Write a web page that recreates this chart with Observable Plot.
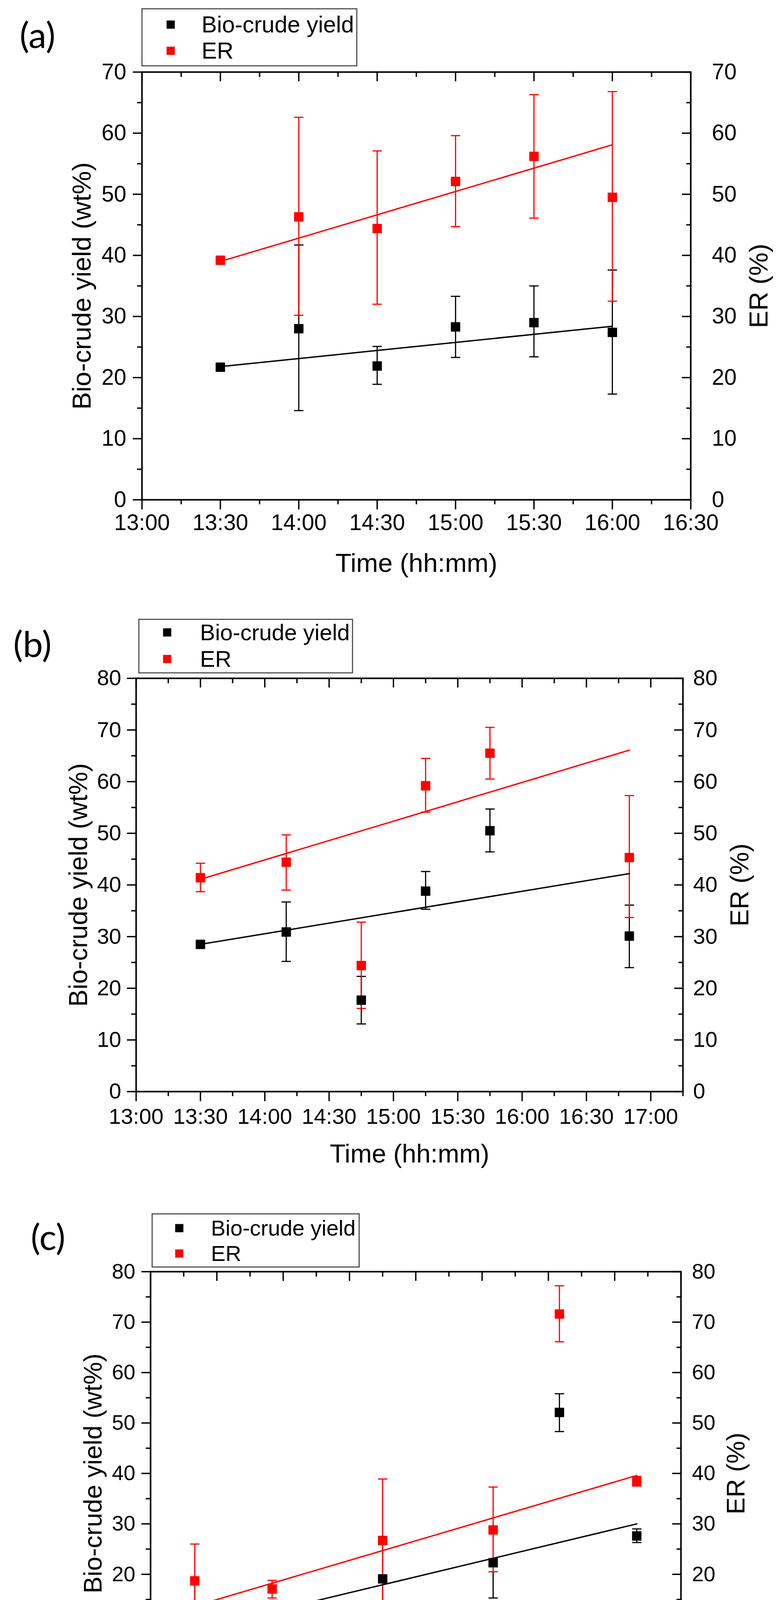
<!DOCTYPE html>
<html><head><meta charset="utf-8">
<script src="https://cdn.jsdelivr.net/npm/d3@7"></script>
<script src="https://cdn.jsdelivr.net/npm/@observablehq/plot@0.6"></script>
<style>
html,body{margin:0;padding:0;background:#fff;}
#page{position:relative;width:1997px;height:4495px;overflow:hidden;font-family:"Liberation Sans",Arial,sans-serif;}
.panel{position:absolute;left:0;}
.legend{position:absolute;border:3px solid #555;box-sizing:border-box;background:#fff;}
.lgsym{position:absolute;width:21px;height:21px;transform:translate(-50%,-50%);}
.lgtxt{position:absolute;white-space:nowrap;line-height:1;transform:translateY(-50%);color:#000;}
.plabel{position:absolute;font-family:Lato,"Open Sans",sans-serif;transform:translate(-50%,-50%);line-height:1;color:#000;}
</style></head><body><div id="page"></div>
<script>
// ---------- DATA ----------
const seriesNames = ["Bio-crude yield", "ER"];
const yLabel = "Bio-crude yield (wt%)";
const y2Label = "ER (%)";
const xLabel = "Time (hh:mm)";

// Panel (a)
const timesA  = ["13:30","14:00","14:30","15:00","15:30","16:00"];
const bioA    = [21.7, 28.0, 21.9, 28.3, 29.0, 27.4];
const bioLoA  = [21.2, 14.6, 18.9, 23.3, 23.4, 17.3];
const bioHiA  = [22.2, 41.7, 25.1, 33.3, 35.0, 37.6];
const erA     = [39.2, 46.3, 44.4, 52.1, 56.2, 49.5];
const erLoA   = [38.7, 30.2, 32.0, 44.7, 46.1, 32.5];
const erHiA   = [39.7, 62.6, 57.1, 59.6, 66.3, 66.8];
const fitTimesA = ["13:30","16:00"];
const bioFitA = [21.8, 28.4];
const erFitA  = [39.0, 58.1];
const xTicksA = ["13:00","13:30","14:00","14:30","15:00","15:30","16:00","16:30"];
const xDomainA = ["13:00","16:30"];
const yTicksA = [0,10,20,30,40,50,60,70];

// Panel (b)
const timesB  = ["13:30","14:10","14:45","15:15","15:45","16:50"];
const bioB    = [28.5, 30.9, 17.7, 38.8, 50.5, 30.1];
const bioLoB  = [27.9, 25.2, 13.1, 35.3, 46.4, 24.0];
const bioHiB  = [28.9, 36.7, 22.3, 42.6, 54.7, 36.1];
const erB     = [41.4, 44.4, 24.4, 59.2, 65.5, 45.3];
const erLoB   = [38.7, 39.0, 16.1, 54.1, 60.5, 33.7];
const erHiB   = [44.2, 49.7, 32.8, 64.5, 70.5, 57.3];
const fitTimesB = ["13:30","16:50"];
const bioFitB = [28.5, 42.2];
const erFitB  = [41.1, 66.1];
const xTicksB = ["13:00","13:30","14:00","14:30","15:00","15:30","16:00","16:30","17:00"];
const xDomainB = ["13:00","17:15"];
const yTicksB = [0,10,20,30,40,50,60,70,80];

// Panel (c)
const timesC  = ["12:20","12:55","13:45","14:35","15:05","15:40"];
const bioC    = [13.9, 12.0, 19.1, 22.3, 52.1, 27.6];
const bioLoC  = [9.0, 11.2, 10.7, 15.3, 48.3, 26.3];
const bioHiC  = [18.8, 12.8, 27.5, 29.3, 55.8, 29.0];
const erC     = [18.7, 17.1, 26.7, 28.8, 71.6, 38.4];
const erLoC   = [11.4, 15.3, 14.3, 20.5, 66.1, 37.5];
const erHiC   = [26.0, 18.8, 38.9, 37.3, 77.2, 39.4];
const fitTimesC = ["12:20","15:40"];
const bioFitC = [9.0, 30.0];
const erFitC  = [13.7, 39.6];
const xTicksC = ["12:00","12:30","13:00","13:30","14:00","14:30","15:00","15:30","16:00"];
const xDomainC = ["12:00","16:00"];
const yTicksC = [0,10,20,30,40,50,60,70,80];

const panelLetters = ["(a)","(b)","(c)"];
const colors = {bio: "#000000", er: "#ff0000"};

// ---------- HELPERS ----------
const toMin = s => { const [h, m] = s.split(":").map(Number); return h * 60 + m; };
const fmtMin = m => `${Math.floor(m / 60)}:${String(Math.round(m % 60)).padStart(2, "0")}`;
const capSymbol = { draw(ctx, size) { const w = Math.sqrt(size / Math.PI); ctx.moveTo(-w, 0); ctx.lineTo(w, 0); } };

const panels = [
  {data: {times: timesA, bio: bioA, bioLo: bioLoA, bioHi: bioHiA, er: erA, erLo: erLoA, erHi: erHiA,
          fitTimes: fitTimesA, bioFit: bioFitA, erFit: erFitA, xTicks: xTicksA, xDomain: xDomainA, yTicks: yTicksA},
   layout: {top: 0, height: 1500, mL: 363, mR: 229, mT: 184, mB: 221, tickFont: 57, leftPad: 17, rightGap: 54, botPad: 12,
            titleFont: 67, yTitleDx: -153, y2TitleDx: 175, xTitleDy: 163,
            legend: {x: 362, y: 21, w: 553, h: 149, sx: 437, s1y: 63, s2y: 130, tx: 516, font: 59},
            label: {x: 96, y: 88, font: 92}}},
  {data: {times: timesB, bio: bioB, bioLo: bioLoB, bioHi: bioHiB, er: erB, erLo: erLoB, erHi: erHiB,
          fitTimes: fitTimesB, bioFit: bioFitB, erFit: erFitB, xTicks: xTicksB, xDomain: xDomainB, yTicks: yTicksB},
   layout: {top: 1500, height: 1500, mL: 348, mR: 249, mT: 236, mB: 206, tickFont: 56, leftPad: 15, rightGap: 26, botPad: 18,
            titleFont: 66, yTitleDx: -147, y2TitleDx: 146, xTitleDy: 160,
            legend: {x: 354, y: 1584, w: 550, h: 140, sx: 428, s1y: 1619, s2y: 1687, tx: 512, font: 58},
            label: {x: 83, y: 1647, font: 92}}},
  {data: {times: timesC, bio: bioC, bioLo: bioLoC, bioHi: bioHiC, er: erC, erLo: erLoC, erHi: erHiC,
          fitTimes: fitTimesC, bioFit: bioFitC, erFit: erFitC, xTicks: xTicksC, xDomain: xDomainC, yTicks: yTicksC},
   layout: {top: 3000, height: 1495, mL: 385, mR: 254, mT: 255, mB: 207, tickFont: 54, leftPad: 16, rightGap: 28, botPad: 13,
            titleFont: 65, yTitleDx: -146, y2TitleDx: 142, xTitleDy: 150,
            legend: {x: 388, y: 3106, w: 533, h: 139, sx: 459, s1y: 3144, s2y: 3209, tx: 540, font: 56},
            label: {x: 123, y: 3165, font: 92}}}
];

const page = document.getElementById("page");

panels.forEach(({data: d, layout: L}, pi) => {
  const rows = d.times.map((t, i) => ({
    x: toMin(t), bio: d.bio[i], bioLo: d.bioLo[i], bioHi: d.bioHi[i],
    er: d.er[i], erLo: d.erLo[i], erHi: d.erHi[i]
  }));
  const fits = d.fitTimes.map((t, i) => ({x: toMin(t), bio: d.bioFit[i], er: d.erFit[i]}));
  const xDom = d.xDomain.map(toMin);
  const yDom = [d.yTicks[0], d.yTicks[d.yTicks.length - 1]];
  const xMajor = d.xTicks.map(toMin);
  const xMinor = d3.range(xDom[0] + 15, xDom[1] + 0.1, 30);
  const yMinor = d3.range(yDom[0] + 5, yDom[1], 10);
  const sw = 3.5;

  const chart = Plot.plot({
    width: 1997, height: L.height,
    marginLeft: L.mL, marginRight: L.mR, marginTop: L.mT, marginBottom: L.mB,
    x: {domain: xDom},
    y: {domain: yDom},
    style: {fontFamily: '"Liberation Sans", Arial, sans-serif', background: "#fff", color: "#000"},
    marks: [
      // left axis: outward ticks + labels
      Plot.axisY(yMinor, {anchor: "left", tickSize: 12, strokeWidth: sw, fill: "none", label: null}),
      Plot.axisY(d.yTicks, {anchor: "left", tickSize: 23, strokeWidth: sw, tickPadding: L.leftPad,
        fontSize: L.tickFont, tickFormat: v => String(v), label: null}),
      // right axis: inward ticks + labels
      Plot.axisY(yMinor, {anchor: "right", tickSize: 12, dx: -12, strokeWidth: sw, fill: "none", label: null}),
      Plot.axisY(d.yTicks, {anchor: "right", tickSize: 23, dx: -23, strokeWidth: sw, fill: "none", label: null}),
      Plot.axisY(d.yTicks, {anchor: "right", tickSize: 0, tickPadding: L.rightGap,
        fontSize: L.tickFont, tickFormat: v => String(v), label: null}),
      // bottom axis: outward ticks + labels
      Plot.axisX(xMinor, {anchor: "bottom", tickSize: 12, strokeWidth: sw, fill: "none", label: null}),
      Plot.axisX(xMajor, {anchor: "bottom", tickSize: 25, strokeWidth: sw, tickPadding: L.botPad,
        fontSize: L.tickFont, tickFormat: fmtMin, label: null}),
      // top axis: inward ticks
      Plot.axisX(xMinor, {anchor: "top", tickSize: 12, dy: 12, strokeWidth: sw, fill: "none", label: null}),
      Plot.axisX(xMajor, {anchor: "top", tickSize: 23, dy: 23, strokeWidth: sw, fill: "none", label: null}),
      Plot.frame({stroke: "#000", strokeWidth: 4}),
      // error bars: bio
      Plot.ruleX(rows, {x: "x", y1: "bioLo", y2: "bioHi", stroke: colors.bio, strokeWidth: 3}),
      Plot.dot(rows, {x: "x", y: "bioLo", symbol: capSymbol, r: 12, stroke: colors.bio, fill: "none", strokeWidth: 3}),
      Plot.dot(rows, {x: "x", y: "bioHi", symbol: capSymbol, r: 12, stroke: colors.bio, fill: "none", strokeWidth: 3}),
      // error bars: ER
      Plot.ruleX(rows, {x: "x", y1: "erLo", y2: "erHi", stroke: colors.er, strokeWidth: 3}),
      Plot.dot(rows, {x: "x", y: "erLo", symbol: capSymbol, r: 12, stroke: colors.er, fill: "none", strokeWidth: 3}),
      Plot.dot(rows, {x: "x", y: "erHi", symbol: capSymbol, r: 12, stroke: colors.er, fill: "none", strokeWidth: 3}),
      // linear fits
      Plot.line(fits, {x: "x", y: "bio", stroke: colors.bio, strokeWidth: 3.5}),
      Plot.line(fits, {x: "x", y: "er", stroke: colors.er, strokeWidth: 3.5}),
      // markers
      Plot.dot(rows, {x: "x", y: "bio", symbol: "square", r: 13, fill: colors.bio, stroke: colors.bio, strokeWidth: 1}),
      Plot.dot(rows, {x: "x", y: "er", symbol: "square", r: 13, fill: colors.er, stroke: colors.er, strokeWidth: 1}),
      // axis titles
      Plot.text([yLabel], {text: t => t, frameAnchor: "left", textAnchor: "middle", lineAnchor: "middle",
        dx: L.yTitleDx, rotate: -90, fontSize: L.titleFont, fill: "#000"}),
      Plot.text([y2Label], {text: t => t, frameAnchor: "right", textAnchor: "middle", lineAnchor: "middle",
        dx: L.y2TitleDx, rotate: -90, fontSize: L.titleFont, fill: "#000"}),
      Plot.text([xLabel], {text: t => t, frameAnchor: "bottom", textAnchor: "middle", lineAnchor: "middle",
        dy: L.xTitleDy, fontSize: L.titleFont, fill: "#000"})
    ]
  });
  const wrap = document.createElement("div");
  wrap.className = "panel";
  wrap.style.top = L.top + "px";
  wrap.appendChild(chart);
  page.appendChild(wrap);

  // legend
  const lg = L.legend;
  const box = document.createElement("div");
  box.className = "legend";
  Object.assign(box.style, {left: lg.x + "px", top: lg.y + "px", width: lg.w + "px", height: lg.h + "px"});
  page.appendChild(box);
  [[colors.bio, lg.s1y, seriesNames[0]], [colors.er, lg.s2y, seriesNames[1]]].forEach(([c, yy, name]) => {
    const s = document.createElement("div");
    s.className = "lgsym";
    Object.assign(s.style, {left: lg.sx + "px", top: yy + "px", background: c});
    page.appendChild(s);
    const t = document.createElement("div");
    t.className = "lgtxt";
    t.textContent = name;
    Object.assign(t.style, {left: lg.tx + "px", top: yy + "px", fontSize: lg.font + "px"});
    page.appendChild(t);
  });
  // panel letter
  const pl = document.createElement("div");
  pl.className = "plabel";
  pl.textContent = panelLetters[pi];
  Object.assign(pl.style, {left: L.label.x + "px", top: L.label.y + "px", fontSize: L.label.font + "px"});
  page.appendChild(pl);
});
</script>
</body></html>
